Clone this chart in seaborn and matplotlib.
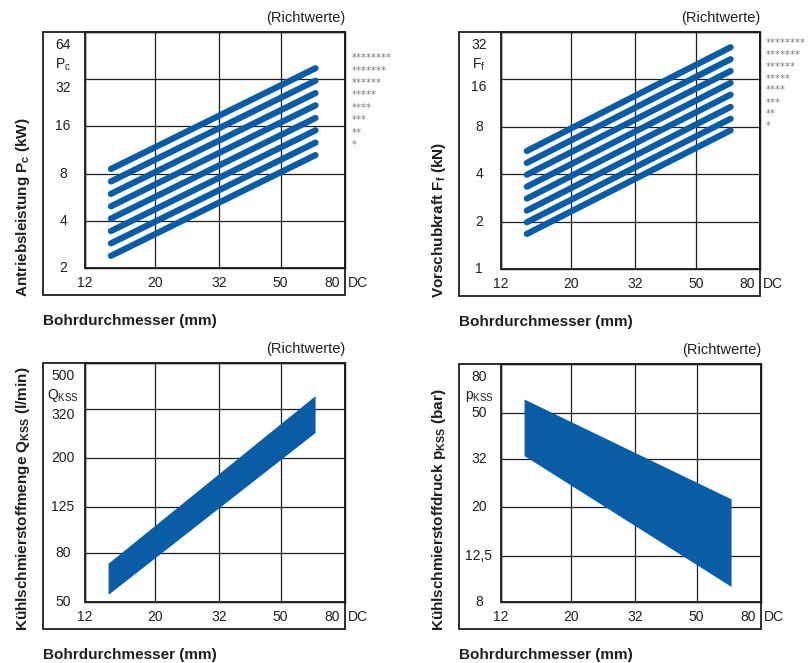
import numpy as np
import pandas as pd
import seaborn as sns
import matplotlib.pyplot as plt
from matplotlib.patches import Rectangle

# Daten (Richtwerte)
x_ticks = [12, 20, 32, 50, 80]
x_line = [14.5, 64.5]
x_band = [14.2, 64.3]

pc_ticks = [2, 4, 8, 16, 32, 64]
pc_start = [8.56, 7.13, 5.94, 4.95, 4.13, 3.44, 2.87, 2.39]
pc_end = [37.6, 31.3, 26.1, 21.8, 18.1, 15.1, 12.6, 10.5]

ff_ticks = [1, 2, 4, 8, 16, 32]
ff_start = [5.62, 4.72, 3.97, 3.33, 2.80, 2.35, 1.98, 1.67]
ff_end = [25.6, 21.5, 18.1, 15.2, 12.8, 10.7, 9.0, 7.6]

q_ticks = [50, 80, 125, 200, 320, 500]
q_upper = [72.6, 365]
q_lower = [53.8, 256]

p_ticks = [8, 12.5, 20, 32, 50, 80]
p_upper = [57, 21.7]
p_lower = [33, 9.3]

stars = ['*' * n for n in range(8, 0, -1)]

blue = '#0a5ca6'
ink = '#1e1e1e'

sns.set_style('white')
plt.rcParams['font.family'] = ['Liberation Sans', 'DejaVu Sans']
plt.rcParams['mathtext.default'] = 'regular'

fig = plt.figure(figsize=(8.08, 6.63), dpi=100)
W, H = 808, 663


def make_ax(left, top, right, bottom):
    return fig.add_axes([left / W, 1 - bottom / H, (right - left) / W, (bottom - top) / H])


def frame(ax, yticks, ylim, ylabel, symbol, second_nudge):
    ax.set_xscale('log')
    ax.set_yscale('log')
    ax.set_xlim(12, 80)
    ax.set_ylim(*ylim)
    ax.set_xticks(x_ticks)
    ax.set_yticks(yticks)
    ax.minorticks_off()
    ax.tick_params(length=0, labelbottom=False, labelleft=False)
    ax.grid(True, color=ink, lw=0.9)
    ax.set_axisbelow(True)
    for s in ax.spines.values():
        s.set_color(ink)
        s.set_linewidth(1.0)
    ax.set_xlabel('')
    ax.set_ylabel('')
    # äußerer Rahmen
    ax.add_patch(Rectangle((0, 0), 1, 1, transform=ax.transAxes, fill=False,
                           ec=ink, lw=1.3, clip_on=False))
    bb = ax.get_position()
    wpx = bb.width * W
    hpx = bb.height * H
    ax.add_patch(Rectangle((-42 / wpx, -27 / hpx), 1 + 42 / wpx, 1 + 27 / hpx,
                           transform=ax.transAxes, fill=False, ec=ink, lw=1.3,
                           clip_on=False))
    # x-Beschriftung
    xt = ax.get_xaxis_transform()
    for i, v in enumerate(x_ticks):
        lab = str(v)
        if i == len(x_ticks) - 1:
            ax.annotate(lab, (v, 0), xycoords=xt, xytext=(-5, -15), textcoords='offset pixels',
                        ha='right', va='center', fontsize=10, color=ink, annotation_clip=False)
        else:
            ax.annotate(lab, (v, 0), xycoords=xt, xytext=(0, -15), textcoords='offset pixels',
                        ha='center', va='center', fontsize=10, color=ink, annotation_clip=False)
    ax.annotate('DC', (80, 0), xycoords=xt, xytext=(13, -15), textcoords='offset pixels',
                ha='center', va='center', fontsize=10, color=ink, annotation_clip=False)
    # y-Beschriftung
    yt = ax.get_yaxis_transform()
    for i, v in enumerate(yticks):
        lab = str(v).replace('.', ',')
        dy = 0
        if i == len(yticks) - 1:
            dy = -13
        elif i == len(yticks) - 2:
            dy = second_nudge
        ax.annotate(lab, (0, v), xycoords=yt, xytext=(-22, dy), textcoords='offset pixels',
                    ha='center', va='center', fontsize=10, color=ink, annotation_clip=False)
    ax.annotate(symbol, (0, yticks[-1]), xycoords=yt, xytext=(-22, -33), textcoords='offset pixels',
                ha='center', va='center', fontsize=10, color=ink, annotation_clip=False)
    ax.annotate('(Richtwerte)', (1, 1), xycoords='axes fraction', xytext=(0, 14),
                textcoords='offset pixels', ha='right', va='center', fontsize=10.5, color=ink,
                annotation_clip=False)
    ax.annotate(ylabel, (0, 0), xycoords='axes fraction', xytext=(-62, -29),
                textcoords='offset pixels', ha='center', va='bottom', rotation=90,
                fontsize=11, fontweight='bold', color=ink, annotation_clip=False)
    ax.annotate('Bohrdurchmesser (mm)', (0, 0), xycoords='axes fraction', xytext=(-42, -53),
                textcoords='offset pixels', ha='left', va='center',
                fontsize=11, fontweight='bold', color=ink, annotation_clip=False)


def lines(ax, start, end, star_factor, star_dx):
    df = pd.DataFrame({
        'd': x_line * len(start),
        'v': [val for pair in zip(start, end) for val in pair],
        'k': np.repeat(np.arange(len(start)), 2),
    })
    sns.lineplot(data=df, x='d', y='v', units='k', estimator=None, color=blue,
                 lw=4.5, solid_capstyle='round', ax=ax, zorder=3)
    yt = ax.get_yaxis_transform()
    for s, e in zip(stars, end):
        ax.annotate(s, (1, e * star_factor), xycoords=yt, xytext=(star_dx, 0),
                    textcoords='offset pixels', ha='left', va='center', fontsize=7.2,
                    color='#777777', family='DejaVu Sans', annotation_clip=False)


ax1 = make_ax(85, 32, 345, 268)
lines(ax1, pc_start, pc_end, 1.16, 7)
frame(ax1, pc_ticks, (2, 64), 'Antriebsleistung P$_c$ (kW)', 'P$_c$', -9)

ax2 = make_ax(501, 32, 760, 269)
lines(ax2, ff_start, ff_end, 1.065, 6)
frame(ax2, ff_ticks, (1, 32), 'Vorschubkraft F$_f$ (kN)', 'F$_f$', -8)

ax3 = make_ax(85, 363, 345, 602)
ax3.fill_between(x_band, q_lower, q_upper, color=blue, lw=0, zorder=3)
frame(ax3, q_ticks, (50, 500), 'Kühlschmierstoffmenge Q$_{KSS}$ (l/min)', 'Q$_{KSS}$', -6)

ax4 = make_ax(501, 364, 761, 602)
ax4.fill_between(x_band, p_lower, p_upper, color=blue, lw=0, zorder=3)
frame(ax4, p_ticks, (8, 80), 'Kühlschmierstoffdruck p$_{KSS}$ (bar)', 'p$_{KSS}$', 0)

fig.savefig('out.png', dpi=100)
